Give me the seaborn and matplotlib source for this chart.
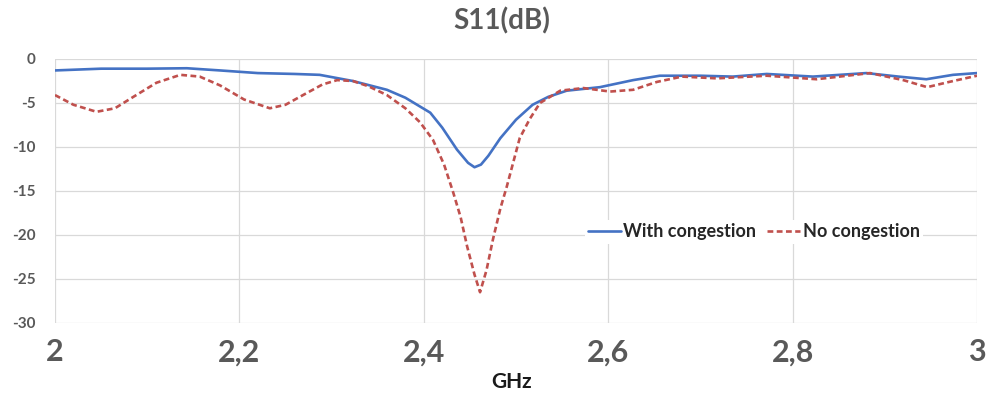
import matplotlib
matplotlib.use("Agg")
import matplotlib.pyplot as plt
import seaborn as sns
import pandas as pd

# with congestion (solid blue)
freq_with = [2.0, 2.05, 2.1, 2.143, 2.179, 2.22, 2.26, 2.287, 2.323, 2.36, 2.38, 2.407,
             2.42, 2.436, 2.448, 2.455, 2.462, 2.47, 2.483, 2.5, 2.518, 2.535, 2.555,
             2.591, 2.627, 2.656, 2.7, 2.735, 2.772, 2.822, 2.88, 2.915, 2.945, 2.974, 3.0]
s11_with = [-1.3, -1.1, -1.1, -1.05, -1.3, -1.6, -1.7, -1.8, -2.5, -3.5, -4.4, -6.1,
            -7.8, -10.3, -11.8, -12.3, -12.0, -11.0, -9.0, -6.9, -5.2, -4.3, -3.6,
            -3.2, -2.4, -1.9, -1.9, -2.0, -1.7, -2.0, -1.6, -2.0, -2.3, -1.8, -1.6]

# no congestion (dashed red)
freq_no = [2.0, 2.02, 2.045, 2.065, 2.085, 2.11, 2.136, 2.157, 2.179, 2.205, 2.233, 2.25,
           2.269, 2.29, 2.306, 2.323, 2.34, 2.36, 2.38, 2.396, 2.41, 2.422, 2.432, 2.44,
           2.447, 2.455, 2.461, 2.468, 2.475, 2.483, 2.49, 2.504, 2.515, 2.526, 2.548,
           2.573, 2.602, 2.627, 2.653, 2.68, 2.718, 2.772, 2.826, 2.884, 2.92, 2.946,
           2.97, 3.0]
s11_no = [-4.1, -5.2, -6.0, -5.6, -4.3, -2.7, -1.8, -2.0, -3.0, -4.6, -5.6, -5.2,
          -4.1, -2.9, -2.4, -2.5, -3.1, -4.1, -5.6, -7.2, -9.2, -12.0, -15.2, -18.0,
          -21.3, -24.5, -26.5, -24.0, -20.5, -17.0, -14.5, -9.0, -6.8, -5.0, -3.6,
          -3.3, -3.7, -3.5, -2.6, -2.0, -2.2, -1.9, -2.3, -1.6, -2.4, -3.2,
          -2.6, -1.9]

x_ticks = [2.0, 2.2, 2.4, 2.6, 2.8, 3.0]
x_labels = ["2", "2,2", "2,4", "2,6", "2,8", "3"]
y_ticks = [0, -5, -10, -15, -20, -25, -30]

sns.set_style("whitegrid")
plt.rcParams["font.family"] = ["Lato", "DejaVu Sans"]

df_with = pd.DataFrame({"f": freq_with, "s": s11_with})
df_no = pd.DataFrame({"f": freq_no, "s": s11_no})

fig = plt.figure(figsize=(9.89, 3.96), dpi=100)
ax = fig.add_axes([55 / 989, 1 - 323 / 396, 922 / 989, 264 / 396])

sns.lineplot(data=df_with, x="f", y="s", ax=ax, color="#4472C4", linewidth=1.9,
             label="With congestion", sort=False)
sns.lineplot(data=df_no, x="f", y="s", ax=ax, color="#C0504D", linewidth=1.9,
             linestyle=(0, (2.2, 1.3)), label="No congestion", sort=False)

ax.set_xlim(2.0, 3.0)
ax.set_ylim(-30, 0)
ax.set_xticks(x_ticks)
ax.set_xticklabels(x_labels)
ax.set_yticks(y_ticks)
ax.set_yticklabels([str(v) for v in y_ticks])
ax.grid(True, color="#D9D9D9", linewidth=0.9)
for sp in ax.spines.values():
    sp.set_visible(False)
ax.tick_params(axis="x", length=0, pad=11, labelsize=22, labelcolor="#595959")
ax.tick_params(axis="y", length=0, pad=14, labelsize=11, labelcolor="#595959")
for t in ax.get_xticklabels() + ax.get_yticklabels():
    t.set_fontweight("bold")
ax.set_xlabel("")
ax.set_ylabel("")

leg = ax.legend(loc="center", bbox_to_anchor=(0.758, 0.345), ncol=2, frameon=True,
                facecolor="white", edgecolor="none", framealpha=1,
                handlelength=1.8, handletextpad=0.15, columnspacing=0.6,
                borderpad=0.2, prop={"weight": "bold", "size": 13})
for t in leg.get_texts():
    t.set_color("#262626")

fig.text(502 / 989, 1 - 21 / 396, "S11(dB)", ha="center", va="center",
         fontsize=20, fontweight="bold", color="#595959")
fig.text(512 / 989, 1 - 382 / 396, "GHz", ha="center", va="center",
         fontsize=15, fontweight="bold", color="#1a1a1a")

fig.savefig("out.png", dpi=100)
